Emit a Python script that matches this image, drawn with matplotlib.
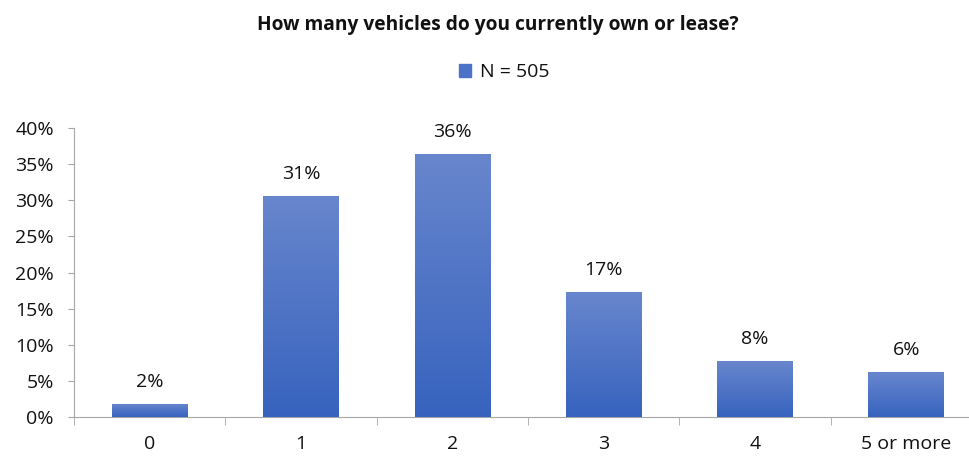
import numpy as np
import matplotlib
matplotlib.use("Agg")
import matplotlib.pyplot as plt
from matplotlib.patches import Rectangle

categories = ["0", "1", "2", "3", "4", "5 or more"]
shares = [1.8, 30.6, 36.4, 17.3, 7.75, 6.2]
series_name = "N = 505"
title = "How many vehicles do you currently own or lease?"
yticks = [0, 5, 10, 15, 20, 25, 30, 35, 40]

plt.rcParams['font.family'] = ['Open Sans', 'DejaVu Sans']
fs = 14

fig = plt.figure(figsize=(9.7, 4.58), dpi=100)
ax = fig.add_axes([74 / 970, 41 / 458, 908 / 970, 289 / 458])

x = np.arange(len(categories))
width = 0.5
bars = ax.bar(x, shares, width, color='#4a72c6', label=series_name, zorder=2)

# vertical gradient on each bar, lighter at the top
grad = np.linspace(0, 1, 256).reshape(-1, 1)
cmap = matplotlib.colors.LinearSegmentedColormap.from_list('g', ['#3763be', '#6886cd'])
for b in bars:
    x0, w, h = b.get_x(), b.get_width(), b.get_height()
    im = ax.imshow(grad, extent=(x0, x0 + w, 0, h), origin='lower', cmap=cmap,
                   aspect='auto', zorder=3)
    im.set_clip_path(b)
    ax.annotate(f"{round(h):d}%", (x0 + w / 2, h), xytext=(0, 16), textcoords='offset points',
                ha='center', va='center', fontsize=fs, color='#111111')

ax.set_xlim(-0.5, len(categories) - 0.5)
ax.set_ylim(0, 40)
ax.set_yticks(yticks)
ax.set_yticklabels([f"{v}%" for v in yticks], fontsize=fs, color='#111111')
ax.set_xticks(x)
ax.set_xticklabels(categories, fontsize=fs, color='#111111')
ax.set_xticks(np.arange(len(categories) + 1) - 0.5, minor=True)
ax.tick_params(axis='x', which='major', length=0, pad=13)
ax.tick_params(axis='x', which='minor', length=6, color='#a6a6a6', direction='out')
ax.tick_params(axis='y', length=4.5, color='#a6a6a6', direction='out', pad=10)

for s in ['top', 'right']:
    ax.spines[s].set_visible(False)
for s in ['left', 'bottom']:
    ax.spines[s].set_color('#a6a6a6')

fig.text(498 / 970, 1 - 25 / 458, title, ha='center', va='center', fontsize=13.8,
         fontweight='bold', color='#111111')
leg = fig.legend(handles=[Rectangle((0, 0), 1, 1, color='#4a72c6')], labels=[series_name],
                 loc='center', bbox_to_anchor=(504 / 970, 1 - 72 / 458), frameon=False,
                 fontsize=fs, handlelength=0.65, handleheight=0.65, handletextpad=0.45)
for t in leg.get_texts():
    t.set_color('#111111')

fig.savefig("out.png", dpi=100)
